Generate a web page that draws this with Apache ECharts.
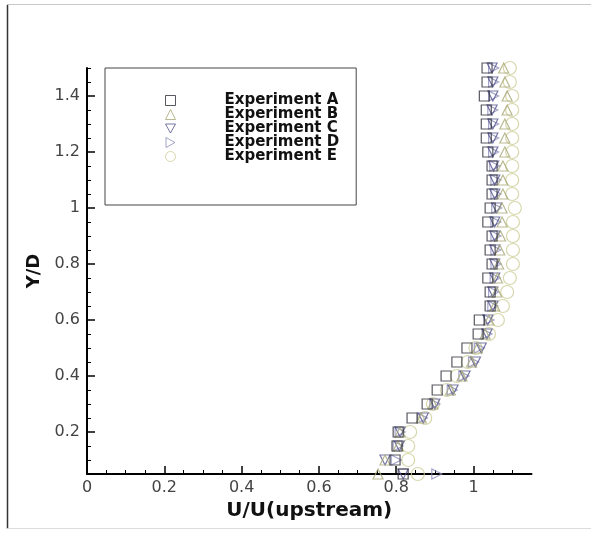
<!DOCTYPE html>
<html>
<head>
<meta charset="utf-8">
<script src="https://cdn.jsdelivr.net/npm/echarts@6/dist/echarts.min.js"></script>
<style>
  html, body { margin: 0; padding: 0; background: #ffffff; }
  #chart { width: 591px; height: 533px; }
</style>
</head>
<body>
<div id="chart"></div>
<script>
// Y/D positions (ascending)
const yValues = [0.05,0.10,0.15,0.20,0.25,0.30,0.35,0.40,0.45,0.50,0.55,0.60,0.65,0.70,0.75,0.80,0.85,0.90,0.95,1.00,1.05,1.10,1.15,1.20,1.25,1.30,1.35,1.40,1.45,1.50];
// U/U(upstream) values per experiment
const expA = [0.818,0.797,0.802,0.805,0.841,0.880,0.906,0.929,0.957,0.983,1.012,1.015,1.043,1.043,1.037,1.048,1.043,1.048,1.037,1.043,1.048,1.048,1.048,1.037,1.033,1.033,1.033,1.028,1.035,1.035];
const expB = [0.753,0.771,0.805,0.810,0.865,0.895,0.940,0.970,0.995,1.010,1.030,1.040,1.055,1.060,1.062,1.065,1.068,1.070,1.074,1.074,1.076,1.076,1.076,1.081,1.081,1.081,1.087,1.087,1.081,1.078];
const expC = [0.818,0.771,0.808,0.810,0.870,0.900,0.947,0.978,1.005,1.020,1.035,1.037,1.050,1.050,1.055,1.055,1.055,1.055,1.055,1.060,1.055,1.055,1.052,1.050,1.050,1.050,1.048,1.050,1.050,1.048];
const expD = [0.905,0.800,0.805,0.810,0.868,0.900,0.945,0.975,1.000,1.015,1.035,1.040,1.050,1.052,1.056,1.058,1.058,1.058,1.058,1.060,1.058,1.058,1.055,1.052,1.052,1.052,1.050,1.052,1.052,1.052];
const expE = [0.856,0.831,0.831,0.836,0.875,0.895,0.931,0.957,0.985,1.005,1.040,1.063,1.076,1.087,1.094,1.102,1.102,1.102,1.102,1.107,1.100,1.100,1.100,1.100,1.100,1.100,1.100,1.100,1.094,1.094];
const seriesNames = ['Experiment A','Experiment B','Experiment C','Experiment D','Experiment E'];

// Tick values
const xMajorTicks = [0,0.2,0.4,0.6,0.8,1];
const xMinorTicks = [0.05,0.1,0.15,0.25,0.3,0.35,0.45,0.5,0.55,0.65,0.7,0.75,0.85,0.9,0.95,1.05,1.1];
const yMajorTicks = [0.2,0.4,0.6,0.8,1,1.2,1.4];
const yMinorTicks = [0.05,0.1,0.15,0.25,0.3,0.35,0.45,0.5,0.55,0.65,0.7,0.75,0.85,0.9,0.95,1.05,1.1,1.15,1.25,1.3,1.35,1.45,1.5];

const styles = [
  {symbol:'rect', rot:0, size:10, color:'#2e2e3a', icon:'rect'},
  {symbol:'triangle', rot:0, size:10, color:'#a8a878', icon:'triangle'},
  {symbol:'triangle', rot:180, size:10, color:'#55558f', icon:'path://M0,0L10,0L5,9Z'},
  {symbol:'triangle', rot:-90, size:10, color:'#8c8cba', icon:'path://M0,0L9,5L0,10Z'},
  {symbol:'circle', rot:0, size:13, color:'#cdcd98', icon:'circle'}
];
const allX = [expA, expB, expC, expD, expE];

const chart = echarts.init(document.getElementById('chart'), null, {renderer:'canvas'});
const font = 'DejaVu Sans';

const series = allX.map((xs, k) => ({
  name: seriesNames[k],
  type: 'scatter',
  xAxisIndex: 0,
  yAxisIndex: 0,
  symbol: styles[k].symbol,
  symbolRotate: styles[k].rot,
  symbolSize: styles[k].size,
  itemStyle: { color: 'rgba(0,0,0,0)', borderColor: styles[k].color, borderWidth: 1.2 },
  emphasis: { disabled: true },
  data: yValues.map((y, i) => [xs[i], y]),
  z: 5 - k
}));

const option = {
  animation: false,
  backgroundColor: '#ffffff',
  grid: { left: 87, right: 591 - 531.5, top: 68, bottom: 533 - 474, containLabel: false },
  xAxis: [
    {
      type: 'value', min: 0, max: 1.15, position: 'bottom',
      splitLine: { show: false },
      axisLine: { show: true, onZero: false, lineStyle: { color: '#000', width: 2 } },
      axisTick: { show: true, inside: true, length: 8, customValues: xMajorTicks, lineStyle: { color: '#000', width: 1.5 } },
      axisLabel: { show: true, customValues: xMajorTicks, margin: 6, fontFamily: font, fontSize: 16, color: '#444' },
      name: 'U/U(upstream)', nameLocation: 'middle', nameGap: 25,
      nameTextStyle: { fontFamily: font, fontWeight: 'bold', fontSize: 20, color: '#111' }
    },
    {
      type: 'value', min: 0, max: 1.15, position: 'bottom',
      splitLine: { show: false },
      axisLine: { show: false, onZero: false },
      axisTick: { show: true, inside: true, length: 4, customValues: xMinorTicks, lineStyle: { color: '#000', width: 1 } },
      axisLabel: { show: false }
    }
  ],
  yAxis: [
    {
      type: 'value', min: 0.05, max: 1.5, position: 'left',
      splitLine: { show: false },
      axisLine: { show: true, onZero: false, lineStyle: { color: '#000', width: 2 } },
      axisTick: { show: true, inside: true, length: 8, customValues: yMajorTicks, lineStyle: { color: '#000', width: 1.5 } },
      axisLabel: { show: true, customValues: yMajorTicks, margin: 7, fontFamily: font, fontSize: 16, color: '#444' },
      name: 'Y/D', nameLocation: 'middle', nameGap: 37, nameRotate: 90,
      nameTextStyle: { fontFamily: font, fontWeight: 'bold', fontSize: 18, color: '#111' }
    },
    {
      type: 'value', min: 0.05, max: 1.5, position: 'left',
      splitLine: { show: false },
      axisLine: { show: false, onZero: false },
      axisTick: { show: true, inside: true, length: 4, customValues: yMinorTicks, lineStyle: { color: '#000', width: 1 } },
      axisLabel: { show: false }
    }
  ],
  legend: {
    orient: 'vertical', left: 105, top: 68,
    padding: [25, 17, 41, 60],
    borderColor: '#444', borderWidth: 1,
    itemWidth: 10, itemHeight: 10, itemGap: -1,
    symbolRotate: 0,
    selectedMode: false,
    textStyle: { fontFamily: font, fontWeight: 'bold', fontSize: 15, color: '#111', lineHeight: 15, padding: [0, 0, 0, 44] },
    data: seriesNames.map((n, k) => ({ name: n, icon: styles[k].icon, itemStyle: { borderWidth: 1 } }))
  },
  graphic: [
    { type: 'line', shape: { x1: 7.5, y1: 5, x2: 7.5, y2: 529 }, style: { stroke: '#333', lineWidth: 1.5 }, silent: true },
    { type: 'line', shape: { x1: 7, y1: 4.5, x2: 591, y2: 4.5 }, style: { stroke: '#c8c8c8', lineWidth: 1 }, silent: true },
    { type: 'line', shape: { x1: 7, y1: 528.5, x2: 591, y2: 528.5 }, style: { stroke: '#dcdcdc', lineWidth: 1 }, silent: true }
  ],
  series: series
};
chart.setOption(option);
</script>
</body>
</html>
